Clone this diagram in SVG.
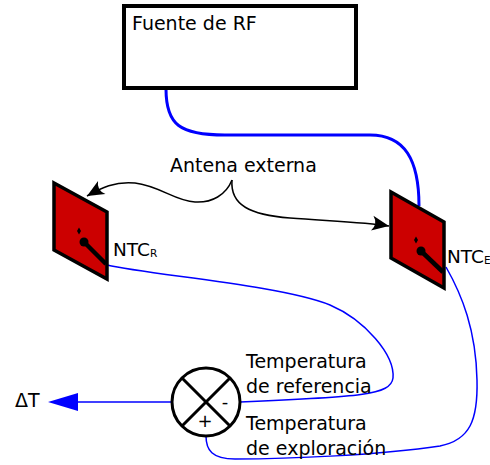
<svg xmlns="http://www.w3.org/2000/svg" width="490" height="465" viewBox="0 0 490 465">
  <style>
    text { font-family: "DejaVu Sans", Verdana, sans-serif; fill: #000; }
    .lbl { font-size: 19px; }
    .wire { fill: none; stroke: #0000ff; stroke-width: 1.5; }
    .feed { fill: none; stroke: #0000ff; stroke-width: 3; }
    .ant { fill: none; stroke: #000; stroke-width: 1.5; marker-end: url(#head); }
    .panel { fill: #cc0000; stroke: #000; stroke-width: 3.5; stroke-linejoin: miter; }
    .probe { stroke: #000; stroke-width: 4.5; stroke-linecap: butt; }
  </style>
  <defs>
    <marker id="head" markerUnits="userSpaceOnUse" markerWidth="24" markerHeight="20" viewBox="-18 -10 24 20" refX="0" refY="0" orient="auto">
      <path d="M0,0 L-17,-7.5 Q-11,0 -17,7.5 Z" fill="#000"/>
    </marker>
  </defs>

  <rect width="490" height="465" fill="#fff"/>

  <!-- connectors -->
  <g id="connectors">
    <path class="feed" d="M166,89 C166,125 180,135 225,135 L370,135 C405,135 419,160 419,206"/>
    <path class="ant" d="M232,180 C226,195 212,203 195,202 C175,201 160,186 135,183 C115,181 101,188 87,196"/>
    <path class="ant" d="M232,180 C230,205 250,215 290,218 C330,221 365,222 389,226"/>
    <path class="wire" d="M107,265 C150,275 280,285 330,305 C365,320 395,355 393,378 C391,395 360,397 240,402"/>
    <path class="wire" d="M446,267 C462,295 476,330 477,380 C478,420 470,440 440,446 C380,455 290,459 235,459 C212,459 206,450 206,436"/>
    <line class="wire" x1="172" y1="402" x2="72" y2="402"/>
    <path d="M48,402 L78,393 L78,411 Z" fill="#0000ff"/>
  </g>

  <g id="fuente-rf">
    <rect x="124" y="6" width="232" height="82" fill="#fff" stroke="#000" stroke-width="4"/>
    <text class="lbl" x="132" y="30">Fuente de RF</text>
  </g>

  <g id="antena-externa">
    <text class="lbl" x="170" y="172">Antena externa</text>
  </g>

  <g id="ntc-r">
    <polygon class="panel" points="54,183 107,212 107,279 54,250"/>
    <polygon points="79,227.5 81,231 79,234.5 77,231" fill="#000"/>
    <line class="probe" x1="84" y1="242" x2="106" y2="264"/>
    <circle cx="84" cy="242" r="4.5" fill="#000"/>
    <text x="113" y="256" font-size="18.5">NTC<tspan font-size="10.5" dy="1">R</tspan></text>
  </g>

  <g id="ntc-e">
    <polygon class="panel" points="391,192 444,222 444,288 391,258"/>
    <polygon points="416,236.5 418,240 416,243.5 414,240" fill="#000"/>
    <line class="probe" x1="421" y1="251" x2="443" y2="272"/>
    <circle cx="421" cy="251" r="4.5" fill="#000"/>
    <text x="447" y="263" font-size="18.5">NTC<tspan font-size="10.5" dy="1">E</tspan></text>
  </g>

  <g id="comparador">
    <circle cx="206" cy="402" r="34" fill="#fff" stroke="#000" stroke-width="3"/>
    <line x1="182" y1="378" x2="230" y2="426" stroke="#000" stroke-width="3"/>
    <line x1="230" y1="378" x2="182" y2="426" stroke="#000" stroke-width="3"/>
    <text x="225" y="408" font-size="18" text-anchor="middle">-</text>
    <text x="205" y="427" font-size="18" text-anchor="middle">+</text>
  </g>

  <g id="delta-t">
    <text class="lbl" x="15" y="407">ΔT</text>
  </g>

  <g id="temp-referencia">
    <text class="lbl" x="246" y="368">Temperatura</text>
    <text class="lbl" x="246" y="393">de referencia</text>
  </g>

  <g id="temp-exploracion">
    <text class="lbl" x="246" y="430">Temperatura</text>
    <text class="lbl" x="246" y="455">de exploración</text>
  </g>
</svg>
